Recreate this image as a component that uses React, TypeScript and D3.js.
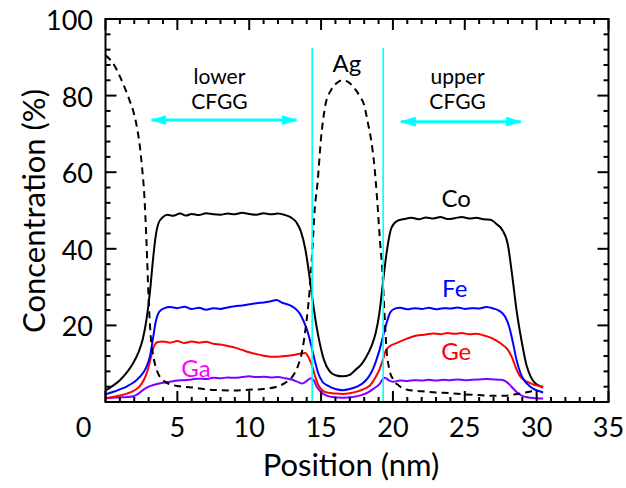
import React from "react";
import * as d3 from "d3";

// Depth profiles (position in nm, concentration in %)
const coProfile: [number, number][] = [
  [0, 3.0], [0.5, 4.2], [1.0, 5.7], [1.5, 7.8], [1.9, 10.0], [2.3, 13.0], [2.6, 16.5], [2.85, 21.5],
  [3.1, 29], [3.3, 37], [3.5, 43.5], [3.7, 46.8], [4.0, 48.3], [4.3, 48.9], [4.7, 48.6], [5.2, 49.2],
  [5.6, 48.7], [6.0, 49.1], [6.5, 48.8], [7.0, 49.3], [7.5, 49.0], [8.0, 48.9], [8.5, 49.2], [9.0, 49.0],
  [9.5, 49.4], [10.0, 49.1], [10.5, 48.9], [11.0, 49.3], [11.5, 49.0], [12.0, 49.2], [12.5, 48.8],
  [12.9, 48.2], [13.3, 46.8], [13.6, 44.5], [13.9, 40], [14.15, 34], [14.4, 27], [14.65, 20.5],
  [14.9, 15.5], [15.2, 11], [15.6, 8], [16.0, 7], [16.5, 6.7], [17.0, 7.1], [17.4, 8.4], [17.8, 9.8],
  [18.1, 11.5], [18.5, 14.5], [18.8, 18], [19.05, 23], [19.3, 31], [19.6, 40], [19.9, 45.5], [20.3, 47.3],
  [20.8, 47.8], [21.3, 48.1], [21.8, 47.7], [22.3, 48.2], [22.8, 47.9], [23.3, 48.3], [23.8, 47.8],
  [24.3, 48.0], [24.8, 48.3], [25.3, 47.9], [25.8, 48.1], [26.3, 47.7], [26.8, 47.6], [27.2, 46.5],
  [27.6, 45.0], [28.0, 41], [28.3, 33], [28.6, 24], [28.95, 16], [29.3, 9.5], [29.6, 6.5], [29.9, 4.9],
  [30.2, 4.2], [30.45, 3.8],
];

const feProfile: [number, number][] = [
  [0, 2.0], [0.5, 2.6], [1.0, 3.3], [1.5, 4.1], [2.0, 5.2], [2.4, 6.6], [2.8, 8.8], [3.1, 12],
  [3.3, 16.5], [3.5, 21], [3.75, 23.6], [4.1, 24.5], [4.5, 24.8], [5.0, 24.5], [5.5, 24.9], [6.0, 24.3],
  [6.5, 24.6], [7.0, 24.1], [7.5, 24.5], [8.0, 24.3], [8.5, 24.7], [9.0, 25.0], [9.5, 25.2], [10.0, 25.5],
  [10.5, 25.8], [11.0, 26.0], [11.5, 26.3], [11.9, 26.6], [12.3, 25.9], [12.8, 25.3], [13.2, 24.4],
  [13.5, 23.2], [13.8, 21], [14.05, 18.5], [14.3, 15], [14.55, 11], [14.8, 7.5], [15.1, 5.3],
  [15.5, 4.2], [16.0, 3.4], [16.5, 3.1], [17.0, 3.4], [17.5, 4.0], [17.9, 4.9], [18.3, 6.5], [18.6, 8.5],
  [18.85, 11], [19.1, 14], [19.3, 17], [19.55, 20.5], [19.8, 23.3], [20.1, 24.3], [20.5, 24.6],
  [21.0, 24.2], [21.5, 24.5], [22.0, 24.3], [22.5, 24.6], [23.0, 24.2], [23.5, 24.5], [24.0, 24.4],
  [24.5, 24.7], [25.0, 24.3], [25.5, 24.5], [26.0, 24.4], [26.5, 24.8], [27.0, 24.4], [27.4, 23.8],
  [27.8, 22.3], [28.1, 19.5], [28.35, 15.5], [28.6, 11], [28.9, 7.3], [29.2, 5.3], [29.5, 4.2],
  [29.9, 3.2], [30.2, 2.8], [30.45, 2.5],
];

const geProfile: [number, number][] = [
  [0, 1.0], [0.5, 1.3], [1.0, 1.7], [1.5, 2.2], [2.0, 3.0], [2.4, 4.2], [2.7, 6], [2.95, 8.5],
  [3.15, 11.5], [3.35, 14.3], [3.6, 15.6], [4.0, 15.8], [4.5, 15.5], [5.0, 15.9], [5.5, 15.4],
  [6.0, 15.8], [6.5, 15.5], [7.0, 15.7], [7.5, 15.2], [8.0, 15.0], [8.5, 14.6], [9.0, 14.2],
  [9.5, 13.6], [10.0, 13.0], [10.5, 12.5], [11.0, 12.1], [11.5, 11.8], [12.0, 11.8], [12.5, 12.0],
  [13.0, 12.2], [13.5, 12.6], [13.9, 12.8], [14.15, 11.5], [14.4, 9.2], [14.6, 6.5], [14.8, 4.5],
  [15.1, 3.0], [15.5, 2.4], [16.0, 2.2], [16.5, 2.1], [17.0, 2.3], [17.5, 2.7], [18.0, 3.4],
  [18.4, 4.3], [18.8, 6.5], [19.05, 8.4], [19.3, 11], [19.5, 13.4], [19.8, 14.6], [20.2, 15.3],
  [20.8, 16.3], [21.6, 17.3], [22.3, 17.6], [22.8, 17.9], [23.3, 17.7], [23.8, 18.0], [24.3, 17.8],
  [24.8, 18.0], [25.3, 17.7], [25.8, 17.8], [26.3, 17.4], [26.8, 16.8], [27.2, 16.0], [27.6, 15.0],
  [28.0, 13.6], [28.3, 11.5], [28.55, 9], [28.8, 7], [29.1, 5.8], [29.5, 5.0], [29.9, 4.4], [30.45, 4.0],
];

const gaProfile: [number, number][] = [
  [0, 1.0], [0.5, 1.1], [1.0, 1.2], [1.5, 1.3], [1.95, 1.5], [2.3, 2.2], [2.6, 3.1], [3.0, 4.0],
  [3.4, 4.5], [4.0, 5.0], [4.5, 5.3], [5.0, 5.6], [5.5, 5.7], [6.0, 5.9], [6.5, 6.1], [7.0, 6.0],
  [7.5, 6.3], [8.0, 6.2], [8.5, 6.4], [9.0, 6.3], [9.5, 6.5], [10.0, 6.7], [10.5, 6.5], [11.0, 6.6],
  [11.5, 6.4], [12.0, 6.5], [12.5, 6.2], [13.0, 5.8], [13.4, 5.2], [13.7, 4.8], [14.0, 5.5], [14.3, 6.2],
  [14.5, 5.6], [14.7, 4.0], [15.0, 2.6], [15.3, 1.8], [15.8, 1.3], [16.5, 1.1], [17.2, 1.3], [17.8, 1.8],
  [18.3, 2.6], [18.7, 3.6], [19.05, 4.6], [19.3, 6.0], [19.45, 6.3], [19.7, 5.7], [20.0, 5.3], [20.5, 5.6],
  [21.0, 5.5], [21.5, 5.7], [22.0, 5.6], [22.5, 5.8], [23.0, 5.6], [23.5, 5.8], [24.0, 5.7], [24.5, 5.9],
  [25.0, 5.7], [25.5, 5.8], [26.0, 5.9], [26.5, 6.0], [27.0, 5.9], [27.5, 5.8], [27.85, 5.4], [28.1, 4.6],
  [28.4, 3.4], [28.7, 2.3], [29.0, 1.6], [29.4, 1.2], [29.9, 1.0], [30.45, 0.9],
];

const agProfile: [number, number][] = [
  [0, 90.5], [0.3, 89.5], [0.6, 88], [1.0, 85], [1.4, 81.5], [1.7, 78.5], [2.0, 75], [2.2, 71.5],
  [2.4, 66.5], [2.55, 61], [2.7, 54], [2.85, 42], [3.0, 27], [3.15, 17], [3.35, 11.5], [3.6, 8],
  [4.0, 5.7], [4.5, 4.6], [5.0, 4.2], [6.0, 3.8], [7.0, 3.3], [8.0, 3.1], [9.0, 3.0], [10.0, 3.2],
  [11.0, 3.4], [11.9, 4.0], [12.5, 5.0], [13.0, 6.6], [13.4, 9.5], [13.7, 13.6], [13.95, 20],
  [14.2, 29], [14.4, 40], [14.55, 50], [14.75, 57], [15.0, 69], [15.3, 77.5], [15.7, 81.5],
  [16.1, 83.3], [16.5, 84.0], [16.9, 83.5], [17.3, 82], [17.7, 79.8], [18.0, 77.5], [18.25, 73],
  [18.5, 68], [18.7, 62], [18.9, 53], [19.1, 42], [19.27, 34], [19.4, 24], [19.55, 14], [19.75, 8.5],
  [20.0, 6], [20.4, 4.3], [21.0, 3.2], [22.0, 2.8], [23.0, 2.5], [24.0, 2.3], [25.0, 2.0], [26.0, 1.8],
  [27.0, 1.6], [27.8, 1.6], [28.5, 2.0], [29.0, 2.3], [29.5, 2.7], [30.0, 3.0],
];

// Axis ticks
const xMajorTicks = [0, 5, 10, 15, 20, 25, 30, 35];
const xMinorTicks = d3.range(0, 36, 1);
const yMajorTicks = [20, 40, 60, 80, 100];
const yMinorTicks = d3.range(0, 101, 4);

// Interface markers and layer spans (nm / %)
const interfaces = [14.38, 19.32];
const interfaceTop = 92.4;
const layerSpans = [
  { from: 3.2, to: 13.3, y: 73.6, lines: ["lower", "CFGG"], cx: 7.93 },
  { from: 20.55, to: 28.9, y: 73.2, lines: ["upper", "CFGG"], cx: 24.5 },
];

const elementLabels = [
  { text: "Ag", x: 16.8, y: 86.2, color: "#000000" },
  { text: "Co", x: 24.4, y: 51.0, color: "#000000" },
  { text: "Fe", x: 24.3, y: 27.3, color: "#0000ff" },
  { text: "Ge", x: 24.4, y: 11.0, color: "#ff0000" },
  { text: "Ga", x: 6.3, y: 6.6, color: "#ff00ff" },
];

const series = [
  { name: "Co", data: coProfile, color: "#000000", dash: undefined as string | undefined },
  { name: "Ga", data: gaProfile, color: "#8000ff", dash: undefined },
  { name: "Ge", data: geProfile, color: "#ff0000", dash: undefined },
  { name: "Fe", data: feProfile, color: "#0000ff", dash: undefined },
  { name: "Ag", data: agProfile, color: "#000000", dash: "7,5" },
];

const W = 626;
const H = 488;
const left = 105.5;
const right = 608.5;
const top = 19;
const bottom = 402;
const FONT = "Lato, 'Open Sans', sans-serif";
const CYAN = "#00ffff";

export default function App() {
  const x = d3.scaleLinear().domain([0, 35]).range([left, right]);
  const y = d3.scaleLinear().domain([0, 100]).range([bottom, top]);
  const line = d3
    .line<[number, number]>()
    .x((d) => x(d[0]))
    .y((d) => y(d[1]))
    .curve(d3.curveMonotoneX);

  const majorLen = 11;
  const minorLen = 5;

  return (
    <svg
      width={W}
      height={H}
      style={{ position: "absolute", left: 0, top: 0, background: "#fff" }}
      fontFamily={FONT}
    >
      <defs>
        <marker id="arrowHead" viewBox="0 0 16 10" refX="15" refY="5" markerWidth="16" markerHeight="10"
          markerUnits="userSpaceOnUse" orient="auto-start-reverse">
          <path d="M0,0 L16,5 L0,10 Z" fill={CYAN} />
        </marker>
      </defs>

      {/* profiles */}
      {series.map((s) => (
        <path key={s.name} d={line(s.data) ?? ""} fill="none" stroke={s.color}
          strokeWidth={2} strokeDasharray={s.dash} strokeLinejoin="round" />
      ))}

      {/* interface lines */}
      {interfaces.map((v) => (
        <line key={v} x1={x(v)} x2={x(v)} y1={y(interfaceTop)} y2={y(0)} stroke={CYAN} strokeWidth={1.6} />
      ))}

      {/* layer spans */}
      {layerSpans.map((s) => (
        <g key={s.lines[0]}>
          <line x1={x(s.from)} x2={x(s.to)} y1={y(s.y)} y2={y(s.y)} stroke={CYAN} strokeWidth={3}
            markerStart="url(#arrowHead)" markerEnd="url(#arrowHead)" />
          <text x={x(s.cx)} y={83.5} textAnchor="middle" fontSize={21} fill="#000">{s.lines[0]}</text>
          <text x={x(s.cx)} y={109} textAnchor="middle" fontSize={21} fill="#000">{s.lines[1]}</text>
        </g>
      ))}

      {/* element labels */}
      {elementLabels.map((l) => (
        <text key={l.text} x={x(l.x)} y={y(l.y)} textAnchor="middle" fontSize={24} fill={l.color}>
          {l.text}
        </text>
      ))}

      {/* frame */}
      <rect x={left} y={top} width={right - left} height={bottom - top} fill="none" stroke="#000" strokeWidth={2} />

      {/* x ticks, bottom and top, pointing inward */}
      {xMinorTicks.map((t) => {
        const len = xMajorTicks.includes(t) ? majorLen : minorLen;
        return (
          <g key={"x" + t} stroke="#000" strokeWidth={2}>
            <line x1={x(t)} x2={x(t)} y1={bottom} y2={bottom - len} />
            <line x1={x(t)} x2={x(t)} y1={top} y2={top + len} />
          </g>
        );
      })}
      {/* y ticks, left and right */}
      {yMinorTicks.map((t) => {
        const len = yMajorTicks.includes(t) ? majorLen : minorLen;
        return (
          <g key={"y" + t} stroke="#000" strokeWidth={2}>
            <line x1={left} x2={left + len} y1={y(t)} y2={y(t)} />
            <line x1={right} x2={right - len} y1={y(t)} y2={y(t)} />
          </g>
        );
      })}

      {/* tick labels */}
      {xMajorTicks.map((t) => (
        <text key={"xl" + t} x={x(t) + (t === 0 ? -22 : 0)} y={437} textAnchor="middle" fontSize={27} fill="#000">
          {t}
        </text>
      ))}
      {yMajorTicks.map((t) => (
        <text key={"yl" + t} x={93} y={y(t) + 11} textAnchor="end" fontSize={27} fill="#000">
          {t}
        </text>
      ))}

      {/* axis titles */}
      <text x={351} y={476} textAnchor="middle" fontSize={31} fill="#000">Position (nm)</text>
      <text transform="translate(45,211) rotate(-90)" textAnchor="middle" fontSize={31} fill="#000">
        Concentration (%)
      </text>
    </svg>
  );
}
